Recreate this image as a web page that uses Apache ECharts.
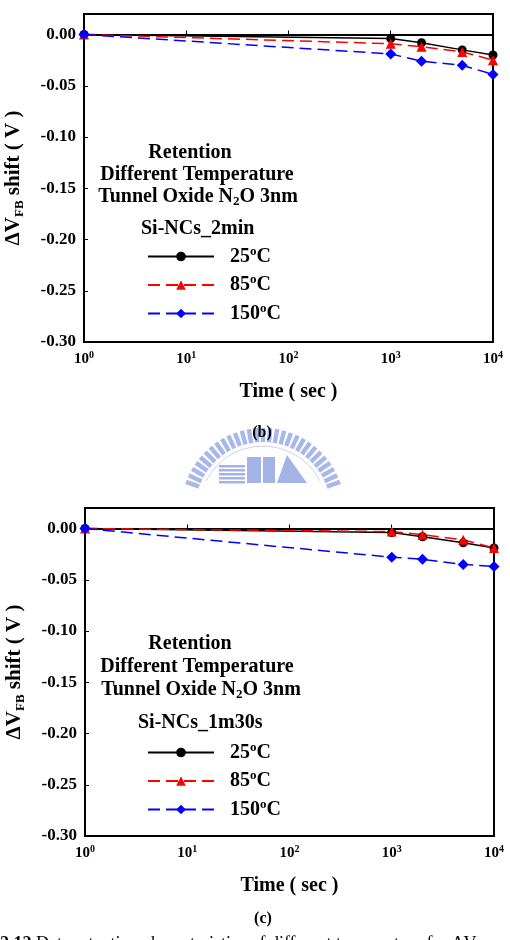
<!DOCTYPE html>
<html>
<head>
<meta charset="utf-8">
<script src="https://cdn.jsdelivr.net/npm/echarts@6/dist/echarts.min.js"></script>
<style>
  html, body { margin: 0; padding: 0; background: #fff; }
  #main { width: 510px; height: 940px; }
</style>
</head>
<body>
<div id="main"></div>
<script>
// time points (sec)
const times = [1, 1000, 2000, 5000, 10000];
// (b) Si-NCs_2min
const b25 = [0, -0.004, -0.008, -0.015, -0.020];
const b85 = [0, -0.009, -0.012, -0.017, -0.025];
const b150 = [0, -0.019, -0.026, -0.030, -0.039];
// (c) Si-NCs_1m30s
const c25 = [0, -0.004, -0.008, -0.014, -0.019];
const c85 = [0, -0.003, -0.006, -0.011, -0.019];
const c150 = [0, -0.028, -0.030, -0.035, -0.037];
const tempNames = ['25°C', '85°C', '150°C'];

const FONT = 'Liberation Serif';
let chart = echarts.init(document.getElementById('main'));

function pairs(ys) {
  return times.map((t, i) => [t, ys[i]]);
}

function bold(size, extra) {
  return Object.assign({ fontFamily: FONT, fontWeight: 'bold', fontSize: size, color: '#000' }, extra || {});
}

function mkX(i) {
  return {
    gridIndex: i,
    type: 'log',
    logBase: 10,
    min: 1,
    max: 10000,
    axisLine: { show: true, lineStyle: { color: '#000', width: 2 } },
    axisTick: { inside: true, length: 4, lineStyle: { color: '#000' } },
    minorTick: { show: false },
    splitLine: { show: false },
    axisLabel: {
      margin: 8,
      formatter: v => '10{sup|' + Math.round(Math.log10(v)) + '}',
      rich: {
        sup: bold(10, { padding: [0, 0, 9, 0] })
      },
      ...bold(15)
    },
    name: 'Time ( sec )',
    nameLocation: 'middle',
    nameGap: 40,
    nameTextStyle: bold(20)
  };
}

function mkY(i) {
  return {
    gridIndex: i,
    type: 'value',
    min: -0.3,
    max: 0.02,
    interval: 0.05,
    axisLine: { show: true, lineStyle: { color: '#000', width: 2 } },
    axisTick: { inside: true, length: 4, lineStyle: { color: '#000' } },
    splitLine: { show: false },
    axisLabel: {
      showMaxLabel: false,
      margin: 8,
      formatter: v => v.toFixed(2),
      ...bold(17)
    },
    name: 'ΔV{sub|FB} shift ( V )',
    nameLocation: 'middle',
    nameGap: 58,
    nameTextStyle: {
      ...bold(21),
      rich: {
        sub: bold(13, { padding: [11, 0, 0, 0] })
      }
    }
  };
}

function mkLegend(top) {
  return {
    orient: 'vertical',
    left: 142,
    top: top,
    itemWidth: 66,
    itemHeight: 12,
    itemGap: 7,
    data: tempNames,
    formatter: n => n.replace('°', '{sup|o}'),
    textStyle: {
      ...bold(20),
      lineHeight: 20,
      padding: [0, 0, 0, 11],
      rich: {
        sup: bold(13, { padding: [0, 0, 10, 0] })
      }
    }
  };
}

const styles = [
  { color: '#000', symbol: 'circle', symbolSize: 9, type: 'solid' },
  { color: '#ff0000', symbol: 'triangle', symbolSize: 10, type: [12, 6] },
  { color: '#0000ff', symbol: 'diamond', symbolSize: 11, type: [12, 6] }
];

function mkSeries(i, ys, k) {
  const s = styles[k];
  return {
    name: tempNames[k],
    type: 'line',
    xAxisIndex: i,
    yAxisIndex: i,
    data: pairs(ys),
    symbol: s.symbol,
    symbolSize: s.symbolSize,
    showAllSymbol: true,
    itemStyle: { color: s.color },
    lineStyle: { color: s.color, width: 1.5, type: s.type }
  };
}

function txt(x, y, text, size, align, rich) {
  return {
    type: 'text',
    x: x,
    y: y,
    style: {
      text: text,
      fontFamily: FONT,
      fontWeight: 'bold',
      fontSize: size,
      fill: '#000',
      align: align || 'center',
      verticalAlign: 'middle',
      rich: rich
    }
  };
}

const subRich = { sub: { fontFamily: FONT, fontWeight: 'bold', fontSize: 13, fill: '#000', padding: [10, 0, 0, 0] } };

// light blue university logo behind "(b)"
function logo(cx, cy) {
  const els = [];
  const n = 29;
  for (let j = 0; j < n; j++) {
    const a = -1.22 + 2.44 * j / (n - 1);
    els.push({
      type: 'rect',
      x: cx, y: cy, rotation: a,
      shape: { x: -2.2, y: -82, width: 4.4, height: 14 },
      style: { fill: '#a9b8ea' }
    });
  }
  els.push({
    type: 'arc', x: cx, y: cy,
    shape: { r: 64, startAngle: Math.PI * 1.15, endAngle: Math.PI * 1.85 },
    style: { stroke: '#c9d2f2', lineWidth: 1, fill: null }
  });
  const bx = cx - 44, by = cy - 45;
  for (let k = 0; k < 5; k++) {
    els.push({ type: 'rect', shape: { x: bx, y: by + 4 * k, width: 26, height: 2.5 }, style: { fill: '#a3b3e8' } });
  }
  els.push({ type: 'rect', shape: { x: bx + 28, y: by - 8, width: 14, height: 26 }, style: { fill: '#a3b3e8' } });
  els.push({ type: 'rect', shape: { x: bx + 44, y: by - 8, width: 12, height: 26 }, style: { fill: '#a3b3e8' } });
  els.push({ type: 'polygon', shape: { points: [[bx + 58, by + 18], [bx + 68, by - 10], [bx + 88, by + 18]] }, style: { fill: '#a3b3e8' } });
  return { type: 'group', silent: true, children: els };
}

const option = {
  animation: false,
  backgroundColor: '#fff',
  grid: [
    { left: 84, top: 14, width: 409, height: 328, show: true, borderColor: '#000', borderWidth: 2, backgroundColor: 'transparent', outerBoundsMode: 'none' },
    { left: 85, top: 508, width: 409, height: 328, show: true, borderColor: '#000', borderWidth: 2, backgroundColor: 'transparent', outerBoundsMode: 'none' }
  ],
  xAxis: [mkX(0), mkX(1)],
  yAxis: [mkY(0), mkY(1)],
  legend: [mkLegend(240), mkLegend(736)],
  series: [
    mkSeries(0, b25, 0), mkSeries(0, b85, 1), mkSeries(0, b150, 2),
    mkSeries(1, c25, 0), mkSeries(1, c85, 1), mkSeries(1, c150, 2)
  ],
  graphic: [
    logo(263, 510),
    txt(190, 153, 'Retention', 20),
    txt(197, 175, 'Different Temperature', 20),
    txt(198, 197, 'Tunnel Oxide N{sub|2}O 3nm', 20, 'center', subRich),
    txt(141, 229, 'Si-NCs_2min', 20, 'left'),
    txt(262, 433, '(b)', 16),
    txt(190, 644, 'Retention', 20),
    txt(197, 667, 'Different Temperature', 20),
    txt(201, 690, 'Tunnel Oxide N{sub|2}O 3nm', 20, 'center', subRich),
    txt(138, 723, 'Si-NCs_1m30s', 20, 'left'),
    txt(263, 919, '(c)', 16),
    {
      type: 'text', x: 0, y: 935,
      style: {
        text: '{b|2.12} Data retention characteristics of different temperature for ΔV',
        fontFamily: FONT, fontSize: 18, fill: '#000', verticalAlign: 'top',
        rich: { b: { fontFamily: FONT, fontWeight: 'bold', fontSize: 18, fill: '#000' } }
      }
    }
  ]
};

chart.setOption(option);
</script>
</body>
</html>
